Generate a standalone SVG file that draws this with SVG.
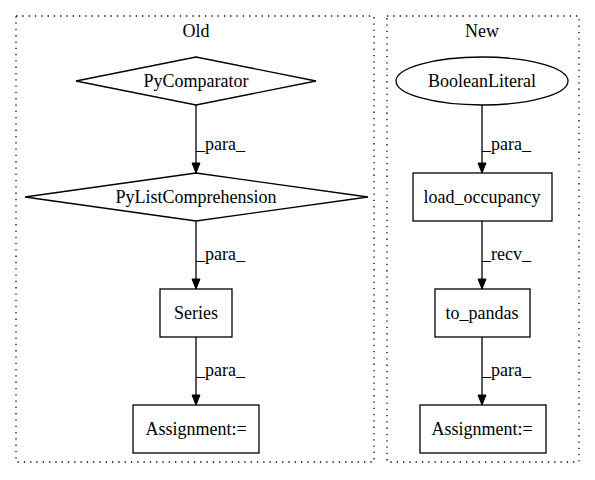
<svg xmlns="http://www.w3.org/2000/svg" width="595" height="480" viewBox="0 0 595 480">
<style>
text{font-family:"Liberation Serif","Times New Roman",serif;font-size:18px;fill:#000}
.c{text-anchor:middle}
.n{fill:#fff;stroke:#000;stroke-width:1.3}
.cl{fill:none;stroke:#000;stroke-width:1.3;stroke-dasharray:1.3,5}
.e{stroke:#000;stroke-width:1.3;fill:none;marker-end:url(#a)}
</style>
<defs>
<marker id="a" markerWidth="12" markerHeight="10" refX="11" refY="5" orient="auto" markerUnits="userSpaceOnUse">
<path d="M1,1 L11,5 L1,9 Z" fill="#000" stroke="#000"/>
</marker>
</defs>
<rect width="595" height="480" fill="#fff"/>
<g id="cluster_old">
<rect class="cl" x="16" y="16" width="358" height="446"/>
<text class="c" x="196" y="37">Old</text>
</g>
<g id="cluster_new">
<rect class="cl" x="387" y="16" width="192" height="446"/>
<text class="c" x="482" y="37">New</text>
</g>
<g id="edges">
<line class="e" x1="196" y1="105" x2="196" y2="173"/>
<text x="196" y="150">_para_</text>
<line class="e" x1="196" y1="221" x2="196" y2="289"/>
<text x="196" y="260">_para_</text>
<line class="e" x1="196" y1="337" x2="196" y2="405"/>
<text x="196" y="376">_para_</text>
<line class="e" x1="482" y1="105" x2="482" y2="173"/>
<text x="482" y="150">_para_</text>
<line class="e" x1="482" y1="221" x2="482" y2="289"/>
<text x="482" y="260">_recv_</text>
<line class="e" x1="482" y1="337" x2="482" y2="405"/>
<text x="482" y="376">_para_</text>
</g>
<g id="PyComparator">
<polygon class="n" points="196,57 316,81 196,105 76,81"/>
<text class="c" x="196" y="87">PyComparator</text>
</g>
<g id="PyListComprehension">
<polygon class="n" points="196,173 368,197 196,221 25,197"/>
<text class="c" x="196" y="203">PyListComprehension</text>
</g>
<g id="Series">
<rect class="n" x="160" y="289" width="72" height="48"/>
<text class="c" x="196" y="319">Series</text>
</g>
<g id="Assignment_old">
<rect class="n" x="133" y="405" width="126" height="48"/>
<text class="c" x="196" y="435">Assignment:=</text>
</g>
<g id="BooleanLiteral">
<ellipse class="n" cx="482" cy="81" rx="86" ry="24"/>
<text class="c" x="482" y="87">BooleanLiteral</text>
</g>
<g id="load_occupancy">
<rect class="n" x="413" y="173" width="139" height="48"/>
<text class="c" x="482" y="203">load_occupancy</text>
</g>
<g id="to_pandas">
<rect class="n" x="435" y="289" width="95" height="48"/>
<text class="c" x="482" y="319">to_pandas</text>
</g>
<g id="Assignment_new">
<rect class="n" x="420" y="405" width="126" height="48"/>
<text class="c" x="482" y="435">Assignment:=</text>
</g>
</svg>
